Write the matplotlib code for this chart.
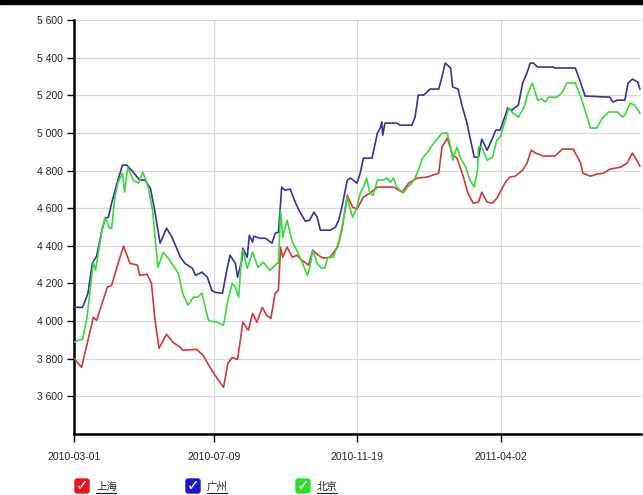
import numpy as np
import matplotlib
matplotlib.use('Agg')
import matplotlib.pyplot as plt
import matplotlib.dates as mdates
from matplotlib.patches import Rectangle, FancyBboxPatch
from matplotlib.lines import Line2D

plt.rcParams['font.family'] = ['Liberation Sans', 'Noto Sans CJK SC', 'DejaVu Sans']

### data (days counted from 2010-03-01) ###
start = np.datetime64('2010-03-01')

sh_days = [0, 7, 18, 21, 31, 35, 41, 46, 52, 59, 61, 68, 72, 75, 79, 86, 92, 99, 101, 114,
           120, 127, 133, 139, 143, 147, 152, 157, 162, 166, 170, 175, 179, 183, 187, 190, 192, 194, 198, 203,
           207, 212, 218, 222, 227, 232, 238, 245, 249, 254, 259, 263, 269, 275, 282, 297, 305, 311, 319, 328,
           339, 342, 347, 352, 356, 362, 366, 371, 376, 379, 384, 389, 393, 401, 405, 410, 417, 421, 425, 429,
           436, 447, 454, 464, 471, 473, 480, 486, 492, 498, 508, 514, 519, 524, 526]
sh_vals = [3802, 3754, 4020, 4004, 4180, 4190, 4307, 4398, 4307, 4297, 4243, 4249, 4201, 4020, 3855, 3930, 3887, 3860, 3845, 3850,
           3818, 3749, 3696, 3648, 3775, 3807, 3796, 3994, 3951, 4041, 3994, 4073, 4031, 4015, 4148, 4164, 4393, 4339, 4393, 4339,
           4350, 4323, 4297, 4377, 4350, 4334, 4339, 4393, 4483, 4669, 4605, 4595, 4659, 4680, 4712, 4712, 4685, 4733, 4760, 4765,
           4786, 4925, 4972, 4882, 4866, 4765, 4680, 4627, 4632, 4685, 4632, 4627, 4653, 4738, 4765, 4770, 4802, 4839, 4908, 4893,
           4877, 4877, 4914, 4914, 4839, 4786, 4770, 4781, 4786, 4807, 4818, 4839, 4893, 4845, 4823]

gz_days = [0, 8, 13, 17, 21, 26, 29, 32, 35, 40, 45, 49, 55, 61, 66, 71, 75, 80, 86, 91,
           99, 103, 110, 113, 119, 124, 128, 131, 138, 142, 145, 150, 152, 156, 157, 161, 163, 166, 167, 173,
           178, 184, 187, 190, 192, 193, 196, 201, 206, 210, 215, 219, 223, 226, 229, 238, 243, 246, 249, 254,
           257, 263, 266, 269, 277, 282, 285, 286, 287, 289, 300, 303, 314, 317, 320, 325, 331, 339, 342, 345,
           350, 352, 357, 361, 365, 368, 372, 376, 379, 384, 389, 392, 396, 401, 403, 407, 413, 417, 421, 424,
           427, 431, 445, 447, 466, 471, 475, 498, 501, 505, 512, 515, 519, 524, 526]
gz_vals = [4073, 4073, 4148, 4307, 4345, 4483, 4547, 4552, 4627, 4733, 4829, 4829, 4792, 4749, 4749, 4706, 4589, 4414, 4494, 4446,
           4339, 4307, 4281, 4243, 4260, 4233, 4164, 4153, 4148, 4270, 4350, 4307, 4233, 4323, 4387, 4339, 4456, 4419, 4451, 4440,
           4440, 4414, 4467, 4472, 4627, 4712, 4696, 4701, 4627, 4579, 4531, 4536, 4579, 4552, 4483, 4483, 4499, 4536, 4605, 4749,
           4760, 4733, 4786, 4866, 4866, 4999, 5031, 5058, 4988, 5052, 5052, 5041, 5041, 5084, 5201, 5201, 5233, 5233, 5297, 5371,
           5345, 5244, 5233, 5137, 5058, 4978, 4871, 4871, 4967, 4908, 4972, 5015, 5015, 5095, 5132, 5121, 5148, 5265, 5318, 5371,
           5371, 5350, 5350, 5345, 5345, 5265, 5196, 5190, 5164, 5174, 5174, 5265, 5286, 5270, 5233]

bj_days = [0, 4, 8, 12, 15, 18, 20, 26, 29, 33, 35, 38, 41, 45, 47, 50, 55, 60, 64, 69,
           73, 78, 83, 89, 97, 101, 106, 111, 115, 119, 122, 125, 128, 133, 139, 143, 147, 150, 153, 156,
           157, 161, 166, 171, 176, 182, 189, 190, 192, 194, 198, 203, 207, 212, 217, 219, 222, 226, 230, 233,
           236, 241, 246, 250, 254, 257, 259, 263, 266, 269, 272, 275, 278, 282, 287, 291, 294, 297, 300, 306,
           310, 314, 317, 320, 324, 328, 333, 339, 342, 347, 350, 352, 356, 359, 364, 368, 372, 375, 376, 379,
           384, 389, 393, 396, 401, 404, 408, 413, 418, 422, 426, 431, 435, 438, 441, 449, 454, 458, 466, 471,
           477, 480, 486, 491, 497, 505, 510, 512, 517, 521, 526]
bj_vals = [3887, 3898, 3903, 4015, 4164, 4313, 4270, 4483, 4552, 4494, 4494, 4659, 4738, 4786, 4685, 4818, 4749, 4733, 4792, 4712,
           4589, 4286, 4366, 4323, 4254, 4148, 4084, 4127, 4127, 4148, 4073, 4004, 3999, 3994, 3978, 4111, 4201, 4180, 4127, 4361,
           4377, 4281, 4366, 4286, 4313, 4270, 4307, 4307, 4589, 4446, 4536, 4419, 4377, 4313, 4243, 4281, 4377, 4307, 4281, 4281,
           4339, 4339, 4419, 4525, 4659, 4589, 4552, 4605, 4680, 4712, 4760, 4680, 4669, 4749, 4749, 4760, 4738, 4760, 4712, 4680,
           4712, 4733, 4760, 4802, 4866, 4893, 4935, 4978, 4999, 4999, 4925, 4855, 4925, 4871, 4818, 4749, 4712, 4802, 4925, 4925,
           4855, 4871, 4962, 4978, 5068, 5132, 5105, 5084, 5132, 5212, 5265, 5174, 5180, 5164, 5190, 5190, 5217, 5265, 5265, 5190,
           5084, 5026, 5026, 5079, 5111, 5111, 5084, 5095, 5158, 5148, 5105]

tick_dates = ['2010-03-01', '2010-07-09', '2010-11-19', '2011-04-02']
y_ticks = [3600, 3800, 4000, 4200, 4400, 4600, 4800, 5000, 5200, 5400, 5600]
names = ['上海', '广州', '北京']
line_colors = ['#cc3a3a', '#34349a', '#3ad83a']
box_colors = ['#e8141c', '#1818d0', '#2ee02e']
#####################################

fig = plt.figure(figsize=(6.43, 4.95), dpi=100)
fig.patches.append(Rectangle((0, 1 - 4/495), 1, 4/495, transform=fig.transFigure,
                             color='black', zorder=0))
ax = fig.add_axes([74/643, 61/495, 567/643, 414/495])

series = [(sh_days, sh_vals), (gz_days, gz_vals), (bj_days, bj_vals)]
for (d, v), c in zip(series, line_colors):
    dates = start + np.array(d).astype('timedelta64[D]')
    ax.plot(dates.astype('datetime64[D]').astype(object), v, color=c, lw=1.2, zorder=3)

ax.set_ylim(3400, 5600)
ax.set_xlim(mdates.date2num(np.datetime64('2010-03-01')), mdates.date2num(np.datetime64('2010-03-01') + 527))
ax.set_yticks(y_ticks)
ax.set_yticklabels(['{:,}'.format(t).replace(',', ' ') for t in y_ticks])
ax.set_xticks([mdates.date2num(np.datetime64(t)) for t in tick_dates])
ax.set_xticklabels(tick_dates)

ax.grid(color='#d9d9d9', lw=0.9)
ax.set_axisbelow(True)
for s in ['top', 'right']:
    ax.spines[s].set_visible(False)
for s in ['left', 'bottom']:
    ax.spines[s].set_linewidth(1.8)
    ax.spines[s].set_color('black')
ax.tick_params(axis='y', length=5, width=1, pad=3, labelsize=7.5, colors='black')
ax.tick_params(axis='x', length=6, width=1, pad=7, labelsize=7.5, colors='black')
for lab in ax.get_xticklabels() + ax.get_yticklabels():
    lab.set_color('#222222')

# legend row with checkbox squares
box_x = [75, 186, 296]
for bx, name, bc in zip(box_x, names, box_colors):
    x0 = bx / 643
    y0 = 1 - 493/495
    w = 14 / 643
    h = 14 / 495
    fig.patches.append(FancyBboxPatch((x0, y0), w, h, boxstyle='round,pad=0,rounding_size=0.004',
                                      transform=fig.transFigure, facecolor=bc, edgecolor=bc))
    fig.text(x0 + w / 2, y0 + h / 2, '✓', color='white', fontsize=11, fontweight='bold',
             ha='center', va='center', family='DejaVu Sans')
    tx = (bx + 21) / 643
    fig.text(tx, y0 + h / 2 - 0.002, name, fontsize=7.5, ha='left', va='center',
             family=['Noto Sans CJK SC'], color='#222222')
    fig.lines.append(Line2D([tx, tx + 20/643], [y0 + 0.001, y0 + 0.001], transform=fig.transFigure,
                            color='#222222', lw=0.8))

fig.savefig('out.png', dpi=100)
